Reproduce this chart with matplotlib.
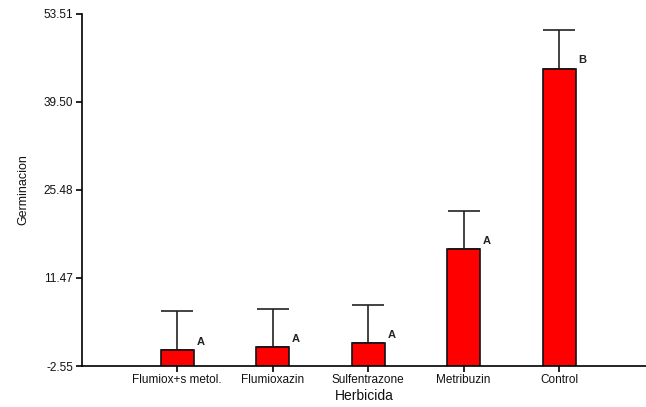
import matplotlib
matplotlib.use("Agg")
import matplotlib.pyplot as plt

plt.rcParams['font.family'] = ['Liberation Sans', 'DejaVu Sans']

herbicidas = ['Flumiox+s metol.', 'Flumioxazin', 'Sulfentrazone', 'Metribuzin', 'Control']
germinacion = [0.0, 0.43, 1.07, 16.05, 44.79]
error_sup = [6.26, 6.15, 6.15, 6.15, 6.21]
letras = ['A', 'A', 'A', 'A', 'B']
yticks = [-2.55, 11.47, 25.48, 39.50, 53.51]

ymin = yticks[0]
ymax = yticks[-1]

fig = plt.figure(figsize=(6.46, 4.07), dpi=100)
ax = fig.add_axes([0.1265, 0.1007, 0.8735, 0.865])

x = list(range(len(herbicidas)))
alturas = [g - ymin for g in germinacion]
ancho = 0.345
ax.bar(x, alturas, bottom=ymin, width=ancho, color='#ff0000',
       edgecolor='#111111', linewidth=1.2, zorder=2)
ax.errorbar(x, germinacion, yerr=[[0] * len(x), error_sup], fmt='none',
            ecolor='#222222', elinewidth=1.2, capsize=11.8, capthick=1.2, zorder=1)

for xi, g, l in zip(x, germinacion, letras):
    ax.annotate(l, xy=(xi + ancho / 2, g), xytext=(5, 6), textcoords='offset points',
                ha='center', va='center', fontsize=8, fontweight='bold', color='#222222')

ax.set_xlim(-1.0, 4.91)
ax.set_ylim(ymin, ymax)
ax.set_yticks(yticks)
ax.set_yticklabels(['%.2f' % t for t in yticks])
ax.set_xticks(x)
ax.set_xticklabels(herbicidas)

ax.spines['top'].set_visible(False)
ax.spines['right'].set_visible(False)
ax.spines['left'].set_linewidth(1.2)
ax.spines['bottom'].set_linewidth(1.2)
ax.tick_params(axis='both', length=4, width=1.2, labelsize=8.5, pad=2,
               labelcolor='#111111')

ax.set_xlabel('Herbicida', fontsize=10, labelpad=2, color='#111111')
ax.set_ylabel('Germinacion', fontsize=9, labelpad=10, color='#111111')

plt.savefig('out.png', dpi=100)
